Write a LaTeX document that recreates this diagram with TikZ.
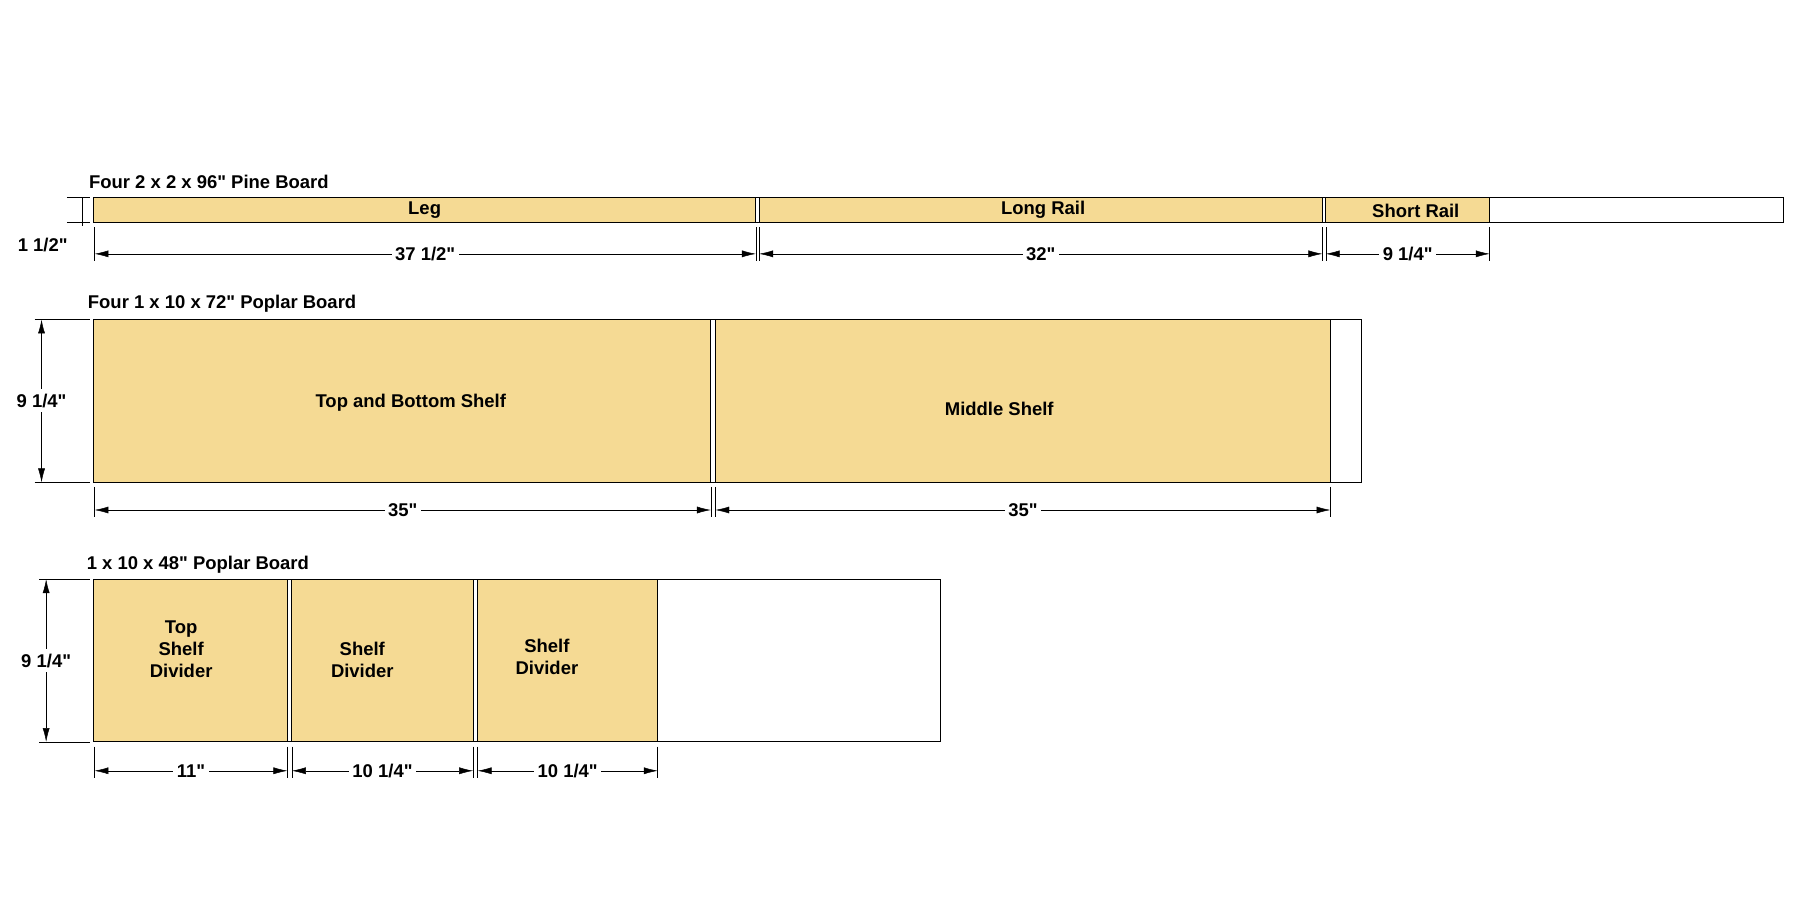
\documentclass[tikz,border=0pt]{standalone}
\usepackage{fontspec}
\newfontfamily\diafont{Liberation Sans}
\usepackage{tikz}
\usetikzlibrary{arrows.meta}
\definecolor{wood}{RGB}{245,218,148}
\newcommand{\inch}{"}

\begin{document}
\begin{tikzpicture}[x=1pt,y=-1pt,
  every node/.style={font=\diafont\bfseries\fontsize{16}{19}\selectfont},
  piece/.style={draw,thick,fill=wood},
  stock/.style={draw,thick,fill=white},
  lbl/.style={align=center,inner sep=0},
  title/.style={anchor=south west,inner sep=1pt},
  dim/.style={{Latex[length=12pt,width=6pt]}-{Latex[length=12pt,width=6pt]},thin},
  ext/.style={thin},
  size/.style={fill=white,inner sep=3pt}]
\useasboundingbox (0,0) rectangle (1560,797);

% pine board
\node [title] (t1) at (76,165) {Four 2 x 2 x 96\inch{} Pine Board};
\draw [stock] (81,171) rectangle (1546,193);
\draw [piece] (81,171) rectangle (655,193);
\draw [piece] (658,171) rectangle (1146,193);
\draw [piece] (1149,171) rectangle (1291,193);
\node [lbl] (leg) at (368,182) {Leg};
\node [lbl] (long) at (904,182) {Long Rail};
\node [lbl] (short) at (1227,183) {Short Rail};
\foreach \x in {82,655,658,1146,1149,1291} \draw [ext] (\x,197) -- (\x,226);
\draw [dim] (82,220) -- node [size] {37 1/2\inch} (655,220);
\draw [dim] (658,220) -- node [size] {32\inch} (1146,220);
\draw [dim] (1149,220) -- node [size] {9 1/4\inch} (1291,220);
\draw [ext] (58,171) -- (78,171) (58,193) -- (78,193) (71,171) -- (71,196);
\node (h1) at (37,212) {1 1/2\inch};

% poplar board 72
\node [title] (t2) at (75,272) {Four 1 x 10 x 72\inch{} Poplar Board};
\draw [stock] (81,277) rectangle (1180,418);
\draw [piece] (81,277) rectangle (616,418);
\draw [piece] (620,277) rectangle (1153,418);
\node [lbl] (topbot) at (356,349) {Top and Bottom Shelf};
\node [lbl] (mid) at (866,354) {Middle Shelf};
\foreach \x in {82,616,620,1153} \draw [ext] (\x,422) -- (\x,448);
\draw [dim] (82,442) -- node [size] {35\inch} (616,442);
\draw [dim] (620,442) -- node [size] {35\inch} (1153,442);
\draw [ext] (30,277) -- (78,277) (30,418) -- (78,418);
\draw [dim] (36,277) -- node [size,inner sep=4pt] {9 1/4\inch} (36,418);

% poplar board 48
\node [title] (t3) at (74,498) {1 x 10 x 48\inch{} Poplar Board};
\draw [stock] (81,502) rectangle (815,643);
\draw [piece] (81,502) rectangle (249,643);
\draw [piece] (253,502) rectangle (410,643);
\draw [piece] (414,502) rectangle (570,643);
\node [lbl] (topdiv) at (157,563) {Top\\Shelf\\Divider};
\node [lbl] (div1) at (314,572) {Shelf\\Divider};
\node [lbl] (div2) at (474,569) {Shelf\\Divider};
\foreach \x in {82,249,253,410,414,570} \draw [ext] (\x,647) -- (\x,674);
\draw [dim] (82,668) -- node [size] {11\inch} (249,668);
\draw [dim] (253,668) -- node [size] {10 1/4\inch} (410,668);
\draw [dim] (414,668) -- node [size] {10 1/4\inch} (570,668);
\draw [ext] (34,502) -- (78,502) (34,643) -- (78,643);
\draw [dim] (40,502) -- node [size,inner sep=4pt] {9 1/4\inch} (40,643);
\end{tikzpicture}
\end{document}
